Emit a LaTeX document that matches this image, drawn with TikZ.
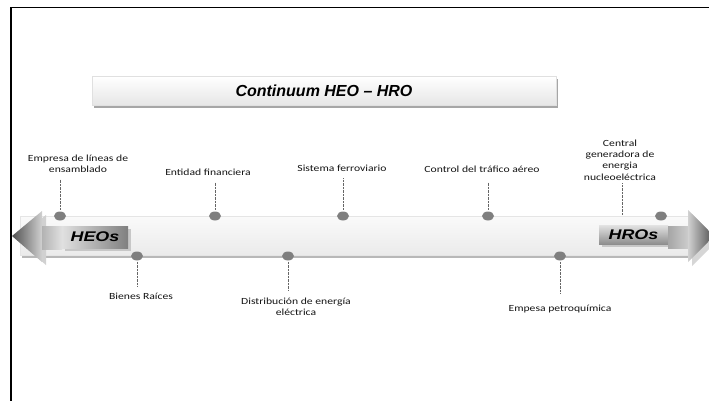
\documentclass[tikz,border=0pt]{standalone}
\usepackage{fontspec}
\setmainfont{Liberation Sans}
\newfontfamily\lblfont[FakeStretch=1.24]{Carlito}
\usetikzlibrary{shapes.geometric,shadows}

\definecolor{ink}{HTML}{141414}
\definecolor{dotgray}{HTML}{7F7F7F}

\begin{document}
\begin{tikzpicture}[x=1pt,y=-1pt,
  lbl/.style={font=\lblfont\fontsize{9.4}{11.3}\selectfont, text=ink, align=center, inner sep=0pt},
  dot/.style={ellipse, fill=dotgray, minimum width=12pt, minimum height=9pt, inner sep=0pt},
  leader/.style={draw=black!60, line width=0.7pt, dash pattern=on 0.7pt off 0.7pt},
  titlebox/.style={draw=black!12, line width=0.6pt, top color=white, bottom color=black!10,
    minimum width=464pt, minimum height=29pt, inner sep=0pt,
    drop shadow={shadow xshift=2pt, shadow yshift=-2.5pt, fill=black!35, opacity=1},
    font=\bfseries\itshape\fontsize{16}{19}\selectfont},
  band/.style={draw=black!10, line width=0.6pt, top color=black!2, bottom color=black!8,
    minimum width=670pt, minimum height=39pt, inner sep=0pt,
    drop shadow={shadow xshift=2pt, shadow yshift=-2.5pt, fill=black!28, opacity=1}},
  tagbox/.style={inner sep=0pt, font=\bfseries\itshape\fontsize{14}{16}\selectfont,
    drop shadow={shadow xshift=2.5pt, shadow yshift=-2.5pt, fill=black!22, opacity=1}},
]
\useasboundingbox (0,0) rectangle (709,400);

% frame
\draw[line width=1.7pt, line cap=rect] (709,7.5) -- (11,7.5) -- (11,400);

% title
\node[titlebox] (title) at (324,91) {Continuum HEO – HRO};

% central band
\node[band] (band) at (355,235.5) {};

% left arrow: head, shaft and tag
\fill[black!18] (16,239) -- (46,215) -- (46,265) -- cycle;
\shade[left color=black!68, right color=black!18] (12,236) -- (42,211) -- (42,262) -- cycle;
\shade[left color=black!30, right color=black!12] (42,226) rectangle (62,249);
\node[tagbox, minimum width=66pt, minimum height=22pt, left color=black!12, right color=black!50]
  (heo) at (95,237) {\scalebox{1.28}[1]{HEOs}};

% right arrow: tag, shaft and head
\node[tagbox, minimum width=69pt, minimum height=19pt, top color=black!12, bottom color=black!45]
  (hro) at (633.5,235) {\scalebox{1.28}[1]{HROs}};
\shade[left color=black!35, right color=black!20] (668,226) rectangle (688,248);
\fill[black!16] (692,214) -- (692,266) -- (718,240) -- cycle;
\shade[left color=black!18, right color=black!70] (688,210) -- (688,262) -- (714,236) -- cycle;

% points on the continuum
\node[dot] (d1) at (60,216) {};
\node[dot] (d2) at (215,216) {};
\node[dot] (d3) at (343,216) {};
\node[dot] (d4) at (488,216) {};
\node[dot] (d5) at (661,216) {};
\node[dot] (d6) at (137,256) {};
\node[dot] (d7) at (288,256) {};
\node[dot] (d8) at (560,256) {};
\coordinate (c5) at (622,215);

% labels
\node[lbl] (l1) at (78,163.5) {Empresa de líneas de\\ensamblado};
\node[lbl] (l2) at (208,172) {Entidad financiera};
\node[lbl] (l3) at (342,168) {Sistema ferroviario};
\node[lbl] (l4) at (482,169) {Control del tráfico aéreo};
\node[lbl] (l5) at (620,160) {Central\\generadora de\\energia\\nucleoeléctrica};
\node[lbl] (l6) at (141,296) {Bienes Raíces};
\node[lbl] (l7) at (296,307) {Distribución de energía\\eléctrica};
\node[lbl] (l8) at (560,309) {Empesa petroquímica};

% dotted leaders (y grows downwards)
\draw[leader] (d1 |- l1.south) ++(0,7) -- ([yshift=2pt]d1.north);
\draw[leader] (d2 |- l2.south) ++(0,7) -- ([yshift=2pt]d2.north);
\draw[leader] (d3 |- l3.south) ++(0,7) -- ([yshift=2pt]d3.north);
\draw[leader] (d4 |- l4.south) ++(0,10) -- ([yshift=2pt]d4.north);
\draw[leader] (c5 |- l5.south) ++(0,3) -- (c5);
\draw[leader] (d6.south) ++(0,1) -- ([yshift=7pt]d6 |- l6.north);
\draw[leader] (d7.south) ++(0,1) -- ([yshift=7pt]d7 |- l7.north);
\draw[leader] (d8.south) ++(0,1) -- ([yshift=12pt]d8 |- l8.north);
\end{tikzpicture}
\end{document}
